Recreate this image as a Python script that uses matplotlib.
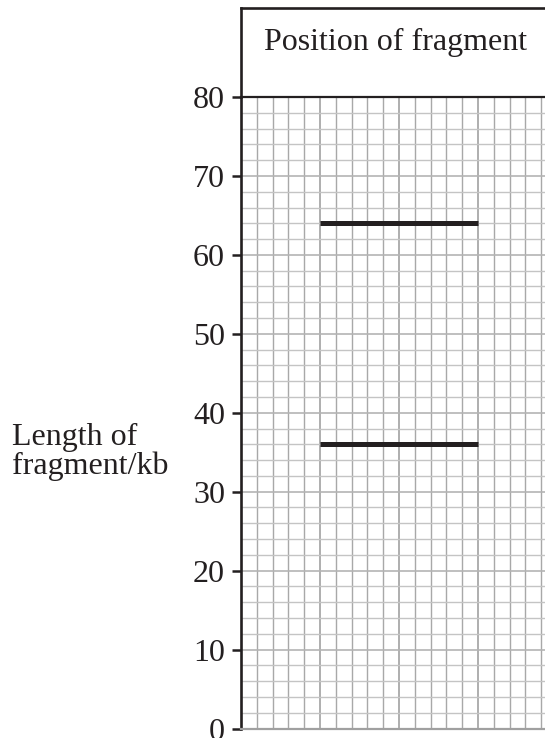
import numpy as np
import matplotlib
matplotlib.use("Agg")
import matplotlib.pyplot as plt

plt.rcParams['font.family'] = ['Liberation Serif', 'DejaVu Serif']

# data
band_lengths = [64, 36]          # kb
band_start, band_end = 5, 15     # grid columns covered by each band
y_ticks = list(range(0, 81, 10))
header_text = "Position of fragment"
y_label = "Length of\nfragment/kb"

W, H = 545, 738
fig = plt.figure(figsize=(W / 100, H / 100), dpi=100)

# pixel layout of the reference
left_px, right_px = 241, 545
top_px, zero_px = 97, 728.5
box_top_px = 8
col_px = 15.8  # width of one grid square
fs = 23

ax = fig.add_axes([left_px / W, 1 - zero_px / H,
                   (right_px - left_px) / W, (zero_px - top_px) / H])
ax.set_xlim(0, (right_px - left_px) / col_px)
ax.set_ylim(0, 80)

ax.set_yticks(y_ticks)
ax.set_yticks(np.arange(0, 81, 2), minor=True)
ax.set_xticks(np.arange(0, 20, 5))
ax.set_xticks(np.arange(0, 20, 1), minor=True)
ax.set_xticklabels([])
ax.tick_params(axis='x', which='both', length=0)
ax.tick_params(axis='y', which='major', length=6.5, width=1.8, color='#231f20',
               labelsize=fs, pad=5, labelcolor='#231f20')
ax.tick_params(axis='y', which='minor', length=0)

ax.set_axisbelow(True)
ax.grid(axis='y', which='minor', color='#c4c4c4', lw=1.0)
ax.grid(axis='y', which='major', color='#b4b4b4', lw=1.2)
ax.grid(axis='x', which='minor', color='#a8a8a8', lw=1.0)
ax.grid(axis='x', which='major', color='#9c9c9c', lw=1.15)

ax.spines['left'].set_color('#231f20')
ax.spines['left'].set_linewidth(1.9)
ax.spines['top'].set_color('#231f20')
ax.spines['top'].set_linewidth(1.6)
ax.spines['bottom'].set_color('#a0a0a0')
ax.spines['bottom'].set_linewidth(1.6)
ax.spines['right'].set_visible(False)

ax.hlines(band_lengths, band_start, band_end, color='#231f20', lw=3.6,
          capstyle='butt', zorder=3)

ax.set_ylabel(y_label, rotation=0, ha='left', va='center', fontsize=fs,
              multialignment='left', linespacing=1.0, color='#231f20')
ax.yaxis.set_label_coords((12 - left_px) / (right_px - left_px),
                          (zero_px - 452) / (zero_px - top_px))

# header box above the grid
hx = fig.add_axes([left_px / W, 1 - top_px / H,
                   (right_px - left_px) / W, (top_px - box_top_px) / H])
hx.set_xticks([])
hx.set_yticks([])
for s in ['right', 'bottom']:
    hx.spines[s].set_visible(False)
for s in ['left', 'top']:
    hx.spines[s].set_color('#231f20')
    hx.spines[s].set_linewidth(1.9)
hx.patch.set_alpha(0)

fig.text(396 / W, 1 - 50 / H, header_text, ha='center', va='baseline',
         fontsize=fs, color='#231f20')

fig.savefig("out.png", dpi=100)
